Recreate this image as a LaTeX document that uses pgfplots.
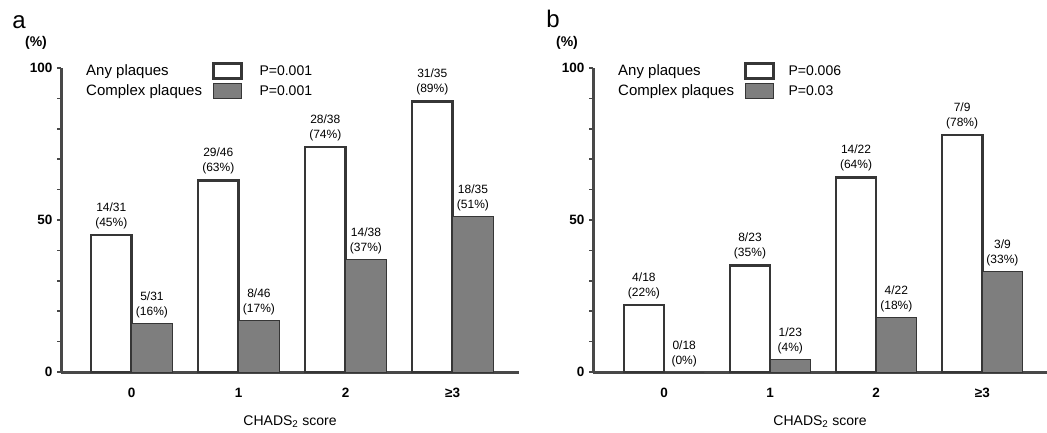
\documentclass[border=0pt]{standalone}
\usepackage{pgfplots}
\pgfplotsset{compat=1.18}
\usepackage{fontspec}
\setmainfont{Liberation Sans}
\definecolor{axisgray}{HTML}{484848}
\definecolor{bardark}{HTML}{363636}
\definecolor{barfill}{HTML}{7E7E7E}

\tikzset{pval/.style={anchor=west, font=\fontsize{14}{16}\selectfont}}
\pgfplotsset{
  panel/.style={
    scale only axis, height=304pt,
    ymin=0, ymax=100,
    axis x line=bottom, axis y line=left,
    axis line style={-, draw=axisgray, line width=3pt},
    ytick={0,50,100}, minor ytick={10,20,30,40,60,70,80,90},
    tick align=outside,
    major tick length=4pt, minor tick length=4pt,
    every tick/.style={axisgray, line width=1.5pt},
    xtick={0,1,2,3}, xticklabels={0,1,2,≥3},
    x tick style={draw=none},
    /pgf/number format/assume math mode=true,
    tick label style={font=\bfseries\fontsize{13.5}{16}\selectfont},
    yticklabel style={xshift=-1pt},
    xticklabel style={yshift=-9pt},
    xlabel={CHADS\textsubscript{2} score},
    xlabel style={font=\fontsize{14}{16}\selectfont, at={(axis description cs:0.5,0)}, anchor=center, yshift=-50pt},
    ybar, bar width=0.38,
    nodes near coords, point meta=explicit symbolic,
    nodes near coords style={align=center, font=\fontsize{12}{15}\selectfont, inner sep=3pt, anchor=south, yshift=2pt, text=black},
    legend cell align=left, legend plot pos=right,
    legend image code/.code={\draw[#1] (0pt,-7.5pt) rectangle (28pt,7.5pt);},
    legend style={draw=none, fill=none, inner sep=0pt, column sep=8pt, row sep=3pt,
      font=\fontsize{15}{17}\selectfont, at={(axis description cs:0,1)}, anchor=north west,
      xshift=23pt, yshift=6pt},
    clip=false,
  },
  anyplaq/.style={fill=white, draw=bardark, line width=2.5pt, bar shift=-0.19},
  cplxplaq/.style={fill=barfill, draw=bardark, line width=1pt, bar shift=0.19},
}

\begin{document}
\begin{tikzpicture}[x=1pt,y=1pt]
\useasboundingbox (0,0) rectangle (1047,432);
% Panel a
\begin{axis}[panel, width=458pt, xmin=-0.66, xmax=3.62, at={(61pt,60pt)}, anchor=south west]
\addplot[anyplaq] coordinates {(0,45) [{14/31\\(45\%)}] (1,63) [{29/46\\(63\%)}] (2,74) [{28/38\\(74\%)}] (3,89) [{31/35\\(89\%)}]};
\addplot[cplxplaq] coordinates {(0,16) [{5/31\\(16\%)}] (1,17) [{8/46\\(17\%)}] (2,37) [{14/38\\(37\%)}] (3,51) [{18/35\\(51\%)}]};
\legend{Any plaques, Complex plaques}
\node[pval] at (axis description cs:0,1) [xshift=195pt, yshift=-3pt] {P=0.001};
\node[pval] at (axis description cs:0,1) [xshift=195pt, yshift=-23pt] {P=0.001};
\node[font=\fontsize{24}{28}\selectfont] at (axis description cs:0,1) [xshift=-42pt, yshift=46pt] {a};
\node[font=\bfseries\fontsize{14}{16}\selectfont] at (axis description cs:0,1) [xshift=-25pt, yshift=25pt] {(\%)};
\end{axis}
% Panel b
\begin{axis}[panel, width=454pt, xmin=-0.67, xmax=3.61, at={(593pt,60pt)}, anchor=south west]
\addplot[anyplaq] coordinates {(0,22) [{4/18\\(22\%)}] (1,35) [{8/23\\(35\%)}] (2,64) [{14/22\\(64\%)}] (3,78) [{7/9\\(78\%)}]};
\addplot[cplxplaq] coordinates {(0,0) [{0/18\\(0\%)}] (1,4) [{1/23\\(4\%)}] (2,18) [{4/22\\(18\%)}] (3,33) [{3/9\\(33\%)}]};
\legend{Any plaques, Complex plaques}
\node[pval] at (axis description cs:0,1) [xshift=192pt, yshift=-3pt] {P=0.006};
\node[pval] at (axis description cs:0,1) [xshift=192pt, yshift=-23pt] {P=0.03};
\node[font=\fontsize{24}{28}\selectfont] at (axis description cs:0,1) [xshift=-40pt, yshift=49pt] {b};
\node[font=\bfseries\fontsize{14}{16}\selectfont] at (axis description cs:0,1) [xshift=-26pt, yshift=25pt] {(\%)};
\end{axis}
\end{tikzpicture}
\end{document}
